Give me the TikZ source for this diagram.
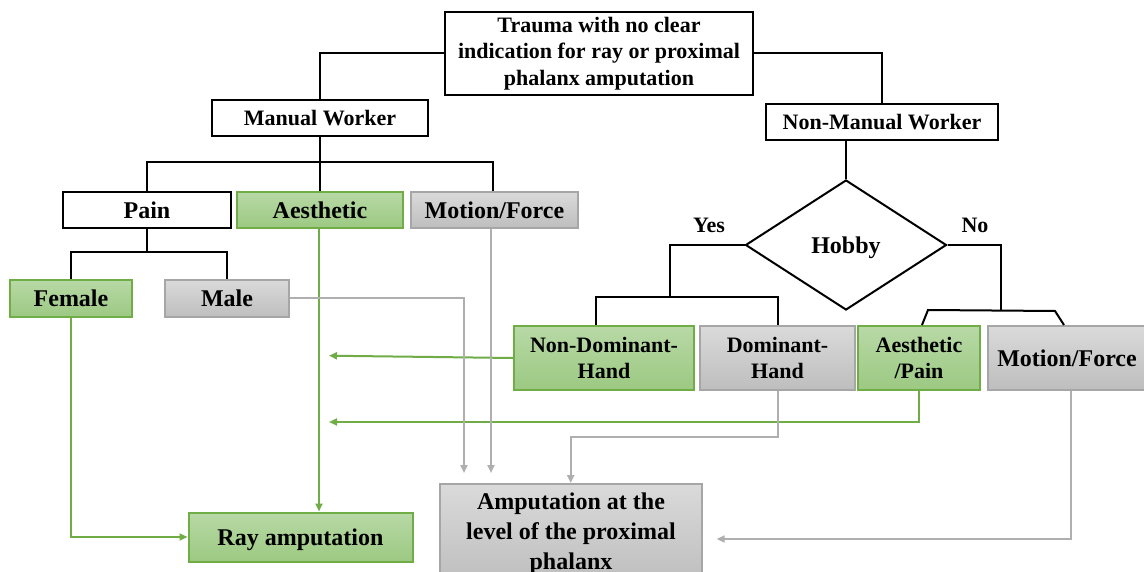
\documentclass[tikz,border=0pt]{standalone}
\usepackage{fontspec}
\setmainfont{Liberation Serif}
\usetikzlibrary{shapes.geometric,arrows.meta}
\definecolor{grn}{RGB}{112,173,71}
\definecolor{gtop}{RGB}{184,217,166}
\definecolor{gbot}{RGB}{156,201,130}
\definecolor{gry}{RGB}{166,166,166}
\definecolor{rtop}{RGB}{218,218,218}
\definecolor{rbot}{RGB}{190,190,190}
\definecolor{glin}{RGB}{175,175,175}
\begin{document}
\begin{tikzpicture}[x=1pt,y=-1pt,
 base/.style={draw, line width=2pt, inner sep=0pt, align=center, font=\bfseries\fontsize{22}{26.5}\selectfont},
 wbox/.style={base, draw=black, fill=white},
 gbox/.style={base, draw=grn, top color=gtop, bottom color=gbot},
 sbox/.style={base, draw=gry, top color=rtop, bottom color=rbot},
 big/.style={font=\bfseries\fontsize{24}{30}\selectfont},
 one/.style={text depth=0pt},
 lbl/.style={font=\bfseries\fontsize{22}{26.5}\selectfont, inner sep=0pt},
 blk/.style={draw=black, line width=2pt},
 gl/.style={draw=grn, line width=2pt},
 sl/.style={draw=glin, line width=2pt},
 arr/.style={-{Triangle[length=8pt,width=7pt]}},
]
\useasboundingbox (0,0) rectangle (1144,572);
\fill[white] (0,0) rectangle (1144,572);

% nodes
\node[wbox, minimum width=308pt, minimum height=83pt] (top) at (599,53.5) {Trauma with no clear\\indication for ray or proximal\\phalanx amputation};
\node[wbox, one, minimum width=216pt, minimum height=36pt] (mw) at (320,118) {Manual Worker};
\node[wbox, one, minimum width=232pt, minimum height=36pt] (nmw) at (882,122) {Non-Manual Worker};
\node[wbox, big, one, minimum width=168pt, minimum height=36pt] (pain) at (147,210) {Pain};
\node[gbox, big, one, minimum width=166pt, minimum height=36pt] (aes) at (320,210) {Aesthetic};
\node[sbox, big, one, minimum width=167pt, minimum height=36pt] (mf) at (494.5,210) {Motion/Force};
\node[gbox, big, one, minimum width=122pt, minimum height=37pt] (fem) at (71,298.5) {Female};
\node[sbox, big, one, minimum width=124pt, minimum height=37pt] (male) at (227,298.5) {Male};
\node[draw, diamond, line width=2pt, inner sep=0pt, aspect=1.55, minimum width=201pt, minimum height=130pt, big, one] (hob) at (846,245) {Hobby};
\node[lbl] (yes) at (709,225) {Yes};
\node[lbl] (no) at (975,225) {No};
\node[gbox, minimum width=180pt, minimum height=64pt] (ndh) at (604,358) {Non-Dominant-\\Hand};
\node[sbox, minimum width=155pt, minimum height=64pt] (dh) at (777.5,358) {Dominant-\\Hand};
\node[gbox, minimum width=122pt, minimum height=64pt] (ap) at (919,358) {Aesthetic\\/Pain};
\node[sbox, big, one, minimum width=158pt, minimum height=64pt] (mf2) at (1067,358) {Motion/Force};
\node[gbox, big, one, minimum width=224pt, minimum height=49pt] (ray) at (300.5,537) {Ray amputation};
\node[sbox, big, minimum width=262pt, minimum height=99pt] (amp) at (571,533.5) {Amputation at the\\level of the proximal\\phalanx};

% black tree connectors
\draw[blk] (top.west) -| (mw.north);
\draw[blk] (top.east) -| (nmw.north);
\coordinate (mwj) at (320,162);
\draw[blk] (mw.south) -- (mwj);
\draw[blk] (pain.north) |- (mwj) -| ([xshift=-1.5pt]mf.north);
\draw[blk] (mwj) -- (aes.north);
\coordinate (pj) at (147,252);
\draw[blk] (pain.south) -- (pj);
\draw[blk] (fem.north) |- (pj) -| (male.north);
\draw[blk] (hob.north |- nmw.south) -- (hob.north);
\coordinate (yj) at (670,297);
\draw[blk] (hob.west) -| (yj);
\draw[blk] ([xshift=-8pt]ndh.north) |- (yj) -| (dh.north);
\coordinate (nj) at (1001,311);
\draw[blk] (hob.east) -| (nj);
\draw[blk] ([xshift=3pt]ap.north) -- ++(6,-15) -- (1055,311) -- ([xshift=-3pt]mf2.north);

% green connectors
\draw[gl,arr] (fem.south) |- (ray.west);
\draw[gl,arr] ([xshift=-1pt]aes.south) -- ([xshift=-1pt]aes.south |- ray.north);
\coordinate (g1) at (329,355.7);
\draw[gl,arr] (ndh.west) -- (g1);
\coordinate (g2) at (329,422);
\draw[gl,arr] (ap.south) |- (g2);

% gray connectors
\coordinate (s1) at (464,473);
\draw[sl,arr] (male.east) -| (s1);
\coordinate (s2) at (491,473);
\draw[sl,arr] (mf.south -| s2) -- (s2);
\coordinate (s3) at (570.7,437);
\draw[sl,arr] (dh.south) |- (s3) -- (s3 |- amp.north);
\coordinate (s4) at (716.7,539);
\draw[sl,arr] ([xshift=4pt]mf2.south) |- (s4);
\end{tikzpicture}
\end{document}
